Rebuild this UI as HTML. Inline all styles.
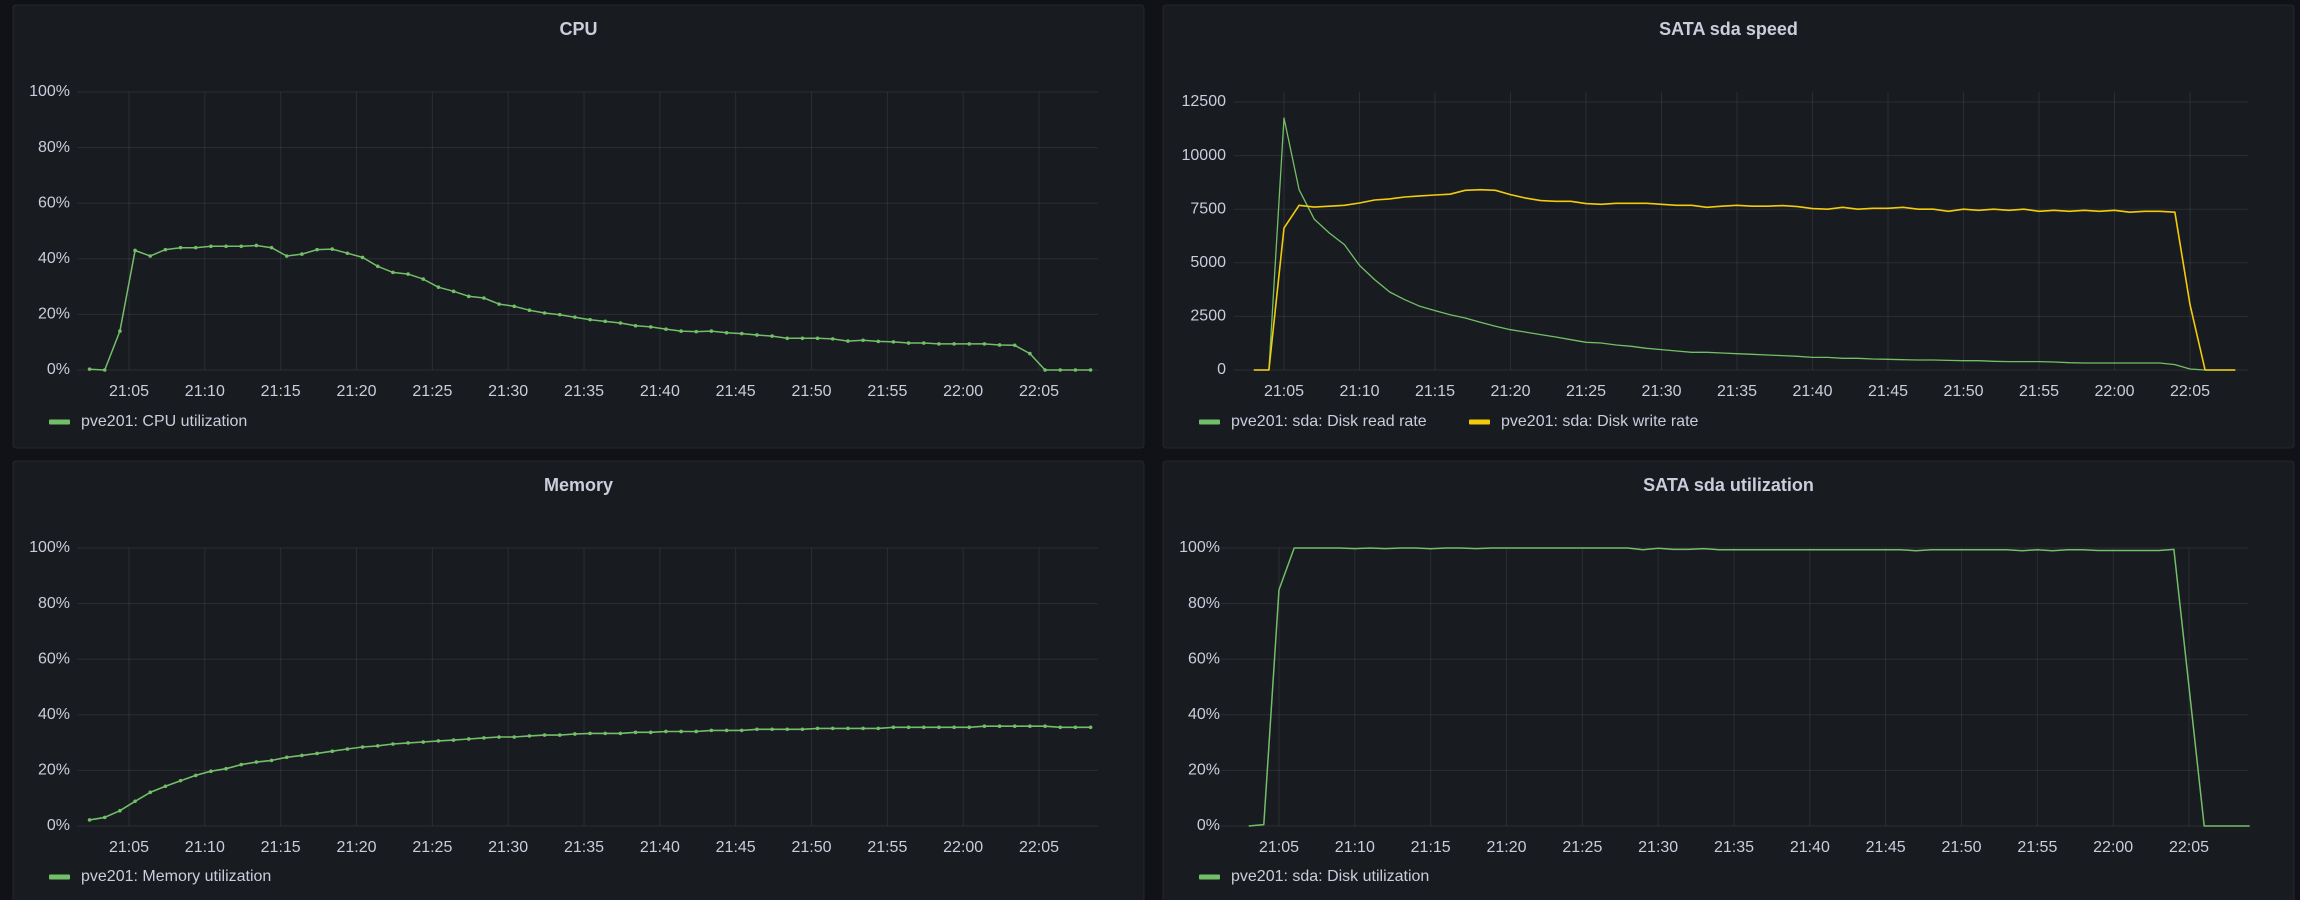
<!DOCTYPE html>
<html><head><meta charset="utf-8">
<style>
html,body{margin:0;padding:0;background:#111217;}
svg{display:block;font-family:"Liberation Sans",sans-serif;}
.tick{fill:#ccccdc;font-size:16px;}
.title{fill:#ccccdc;font-size:18px;font-weight:bold;}
.leg{fill:#ccccdc;font-size:16px;}
.grid{stroke:#ccccdc;stroke-opacity:0.1;stroke-width:1;}
</style></head>
<body>
<svg id="chart" width="2300" height="900" viewBox="0 0 2300 900">
<rect x="0" y="0" width="2300" height="900" fill="#111217"/>
</svg>
<script>
// ---------- data ----------
const timeTicks = [5,10,15,20,25,30,35,40,45,50,55,60,65];
const timeLabels = ["21:05","21:10","21:15","21:20","21:25","21:30","21:35","21:40","21:45","21:50","21:55","22:00","22:05"];
const pctTicks = [0,20,40,60,80,100];
const pctLabels = ["0%","20%","40%","60%","80%","100%"];
const speedTicks = [0,2500,5000,7500,10000,12500];
const speedLabels = ["0","2500","5000","7500","10000","12500"];

const cpuStart = 2.4;
const cpuValues = [0.3,0,14,43,41,43.3,44,44,44.5,44.5,44.5,44.8,44,41,41.7,43.3,43.5,42,40.5,37.3,35.1,34.5,32.7,29.8,28.3,26.5,25.9,23.7,22.9,21.5,20.5,19.9,19,18.1,17.5,16.9,15.9,15.5,14.7,14,13.8,14,13.4,13.1,12.6,12.2,11.4,11.4,11.4,11.2,10.4,10.7,10.3,10.1,9.7,9.7,9.4,9.4,9.4,9.4,9,8.9,5.9,0,0,0,0];

const memStart = 2.4;
const memValues = [2.2,3.1,5.5,8.9,12.1,14.3,16.3,18.2,19.7,20.6,22.1,23,23.6,24.7,25.4,26.1,26.9,27.7,28.4,28.8,29.5,29.9,30.2,30.6,30.9,31.3,31.7,32,32,32.4,32.7,32.7,33.1,33.3,33.3,33.3,33.7,33.7,34,34,34,34.4,34.4,34.4,34.8,34.8,34.8,34.8,35.1,35.1,35.1,35.1,35.1,35.5,35.5,35.5,35.5,35.5,35.5,35.9,35.9,35.9,35.9,35.9,35.5,35.5,35.5];

const speedStart = 3.0;
const readValues = [0,0,11755,8410,7040,6390,5850,4880,4215,3640,3280,2970,2770,2580,2425,2225,2040,1880,1770,1650,1540,1415,1290,1260,1165,1105,1010,950,885,825,825,795,760,730,700,670,640,590,590,545,545,515,500,480,465,465,450,435,435,405,390,390,390,375,340,325,325,325,325,325,325,250,45,0,0,0];
const writeValues = [0,0,6620,7680,7600,7640,7680,7790,7930,7980,8070,8120,8160,8200,8380,8410,8380,8180,8020,7900,7870,7870,7760,7730,7775,7775,7775,7730,7680,7680,7590,7640,7680,7640,7640,7670,7620,7530,7500,7590,7500,7540,7540,7590,7500,7500,7400,7500,7450,7500,7450,7500,7400,7450,7400,7450,7400,7450,7360,7400,7400,7360,3050,0,0,0];

const utilStart = 3.0;
const utilValues = [0,0.5,85,100,100,100,100,99.8,100,99.8,100,100,99.7,100,100,99.8,100,100,100,100,100,100,100,100,100,100,99.4,99.9,99.5,99.5,99.8,99.4,99.4,99.4,99.4,99.4,99.4,99.4,99.4,99.4,99.4,99.4,99.4,99.4,99,99.4,99.4,99.4,99.4,99.4,99.4,99,99.4,99,99.4,99.4,99.1,99.1,99.1,99.1,99.1,99.5,50,0,0,0,0];

// ---------- drawing ----------
const NS = "http://www.w3.org/2000/svg";
const svg = document.getElementById("chart");
function mk(tag, attrs, parent){
  const e = document.createElementNS(NS, tag);
  for (const k in attrs) e.setAttribute(k, attrs[k]);
  (parent||svg).appendChild(e);
  return e;
}

function panel(p){
  const g = mk("g", {});
  
  
  const r = mk("rect", {x:p.px, y:p.py, width:p.pw, height:p.ph, rx:3, fill:"#181b1f", stroke:"#24272d", "stroke-width":1}, g);
  
  
  const t = mk("text", {x:p.px + p.pw/2, y:p.titleY, "text-anchor":"middle", "dominant-baseline":"middle", class:"title"}, g);
  t.textContent = p.title;
  
  

  const X = m => p.x0 + m * p.perMin;
  const Y = v => p.yBottom - (v - p.vMin) / (p.vMax - p.vMin) * (p.yBottom - p.yTop);

  // y grid & labels
  p.yTicks.forEach((v,i) => {
    const l = mk("line", {x1:p.left, x2:p.right, y1:Y(v), y2:Y(v), class:"grid"}, g);
    
    
    const tx = mk("text", {x:p.labelX, y:Y(v), "text-anchor":"end", "dominant-baseline":"middle", class:"tick"}, g);
    tx.textContent = p.yLabels[i];
    
    
  });
  // x grid & labels
  timeTicks.forEach((m,i) => {
    const l = mk("line", {x1:X(m), x2:X(m), y1:p.gridTop, y2:p.yBottom, class:"grid"}, g);
    
    
    const tx = mk("text", {x:X(m), y:p.xLabelY, "text-anchor":"middle", "dominant-baseline":"middle", class:"tick"}, g);
    tx.textContent = timeLabels[i];
    
    
  });
  // series
  p.series.forEach(s => {
    const pts = s.values.map((v,i) => X(s.start + i).toFixed(1) + "," + Y(v).toFixed(1)).join(" ");
    const pl = mk("polyline", {points:pts, fill:"none", stroke:s.color, "stroke-width":s.width, "stroke-linejoin":"round"}, g);
    
    
    if (s.dots) {
      s.values.forEach((v,i) => {
        const c = mk("circle", {cx:X(s.start+i), cy:Y(v), r:1.8, fill:s.color}, g);
        
        
      });
    }
  });
  // legend
  p.legend.forEach(lg => {
    const sw = mk("rect", {x:lg.x, y:p.legendY-2.5, width:21, height:5, rx:1, fill:lg.color}, g);
    
    
    const tx = mk("text", {x:lg.x+32, y:p.legendY, "dominant-baseline":"middle", class:"leg"}, g);
    tx.textContent = lg.label;
    
    
  });
}

const GREEN = "#73bf69", YELLOW = "#f2cc0c";
const PERMIN = 15.167;

panel({name:"cpu-panel", title:"CPU", px:13, py:5, pw:1131, ph:443, titleY:30,
  left:77, right:1098, yTop:92, yBottom:370, gridTop:92, vMin:0, vMax:100,
  yTicks:pctTicks, yLabels:pctLabels, labelX:70, xLabelY:392,
  x0:129 - 5*PERMIN, perMin:PERMIN, legendY:422,
  series:[{name:"cpu-utilization-line", values:cpuValues, start:cpuStart, color:GREEN, width:1.5, dots:true}],
  legend:[{x:49, color:GREEN, label:"pve201: CPU utilization"}]});

panel({name:"sata-speed-panel", title:"SATA sda speed", px:1163, py:5, pw:1131, ph:443, titleY:30,
  left:1234, right:2248, yTop:102, yBottom:370, gridTop:92, vMin:0, vMax:12500,
  yTicks:speedTicks, yLabels:speedLabels, labelX:1226, xLabelY:392,
  x0:1284 - 5*15.1, perMin:15.1, legendY:422,
  series:[{name:"disk-read-rate-line", values:readValues, start:speedStart, color:GREEN, width:1.3, dots:false},
          {name:"disk-write-rate-line", values:writeValues, start:speedStart, color:YELLOW, width:1.6, dots:false}],
  legend:[{x:1199, color:GREEN, label:"pve201: sda: Disk read rate"},
          {x:1469, color:YELLOW, label:"pve201: sda: Disk write rate"}]});

panel({name:"memory-panel", title:"Memory", px:13, py:461, pw:1131, ph:445, titleY:486,
  left:77, right:1098, yTop:548, yBottom:826, gridTop:548, vMin:0, vMax:100,
  yTicks:pctTicks, yLabels:pctLabels, labelX:70, xLabelY:848,
  x0:129 - 5*PERMIN, perMin:PERMIN, legendY:877,
  series:[{name:"memory-utilization-line", values:memValues, start:memStart, color:GREEN, width:1.6, dots:true}],
  legend:[{x:49, color:GREEN, label:"pve201: Memory utilization"}]});

panel({name:"sata-utilization-panel", title:"SATA sda utilization", px:1163, py:461, pw:1131, ph:445, titleY:486,
  left:1221, right:2248, yTop:548, yBottom:826, gridTop:548, vMin:0, vMax:100,
  yTicks:pctTicks, yLabels:pctLabels, labelX:1220, xLabelY:848,
  x0:1279 - 5*PERMIN, perMin:PERMIN, legendY:877,
  series:[{name:"disk-utilization-line", values:utilValues, start:utilStart, color:GREEN, width:1.5, dots:false}],
  legend:[{x:1199, color:GREEN, label:"pve201: sda: Disk utilization"}]});
</script>
</body></html>
